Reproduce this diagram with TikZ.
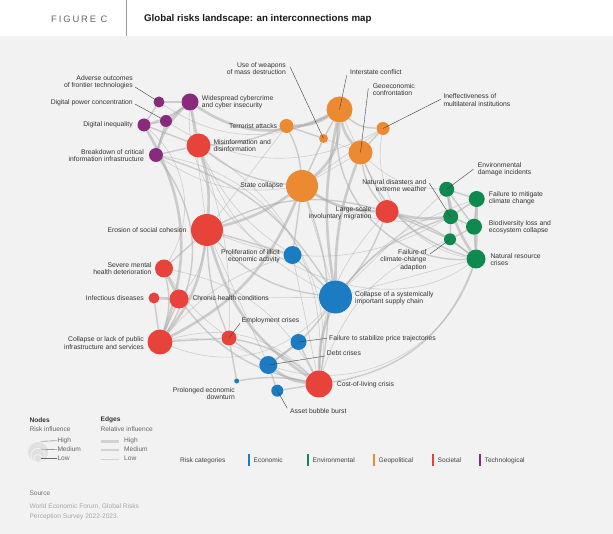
\documentclass[tikz,border=0pt]{standalone}
\usepackage{fontspec}
\setmainfont{Liberation Sans}
\newfontfamily\figfont[LetterSpace=20]{Liberation Sans}
\usetikzlibrary{backgrounds}
\definecolor{bgc}{HTML}{F2F2F2}
\definecolor{ecol}{HTML}{1B7CC4}
\definecolor{vcol}{HTML}{0E8A4E}
\definecolor{gcol}{HTML}{EC8A31}
\definecolor{scol}{HTML}{E8433A}
\definecolor{tcol}{HTML}{892A7E}
\definecolor{edg}{HTML}{ABABAB}
\definecolor{txt}{HTML}{333333}
\pgfdeclarelayer{backl}\pgfdeclarelayer{edgel}
\pgfsetlayers{backl,edgel,main}
\newcommand{\lblfont}{\fontsize{6.8}{7.4}\selectfont}
\tikzset{
  nd/.style={circle,inner sep=0pt,draw=none,minimum size=#1},
  lbl/.style={font=\lblfont,inner sep=0pt,text=txt},
  lr/.style={lbl,anchor=east,align=right},
  ll/.style={lbl,anchor=west,align=left},
  leader/.style={draw=black!75,line width=0.4pt},
  eh/.style={draw=edg,line width=2.6pt,opacity=0.55},
  em/.style={draw=edg,line width=1.4pt,opacity=0.55},
  el/.style={draw=edg,line width=0.6pt,opacity=0.5},
}
\begin{document}
\begin{tikzpicture}[x=1pt,y=-1pt]
\useasboundingbox (0,0) rectangle (613,534);
\begin{pgfonlayer}{backl}
\fill[white] (0,0) rectangle (613,36);
\fill[bgc] (0,36) rectangle (613,534);
\draw[black!40,line width=0.6pt] (126,0) -- (126,36);
\end{pgfonlayer}
\node[anchor=west,inner sep=0pt,font=\figfont\fontsize{9.4}{10}\selectfont,text=black!60] (fig) at (51,19) {FIGURE C};
\node[anchor=west,inner sep=0pt,font=\bfseries\fontsize{9.7}{10}\selectfont,text=black!90] (title) at (144,19) {Global risks landscape: an interconnections map};

% ---------- nodes ----------
% technological
\node[nd=11pt,fill=tcol] (adv) at (159,102) {};
\node[nd=17pt,fill=tcol] (cyb) at (190,102) {};
\node[nd=12pt,fill=tcol] (dpc) at (166,121) {};
\node[nd=13pt,fill=tcol] (dig) at (144,125) {};
\node[nd=14pt,fill=tcol] (bci) at (156,155) {};
% societal
\node[nd=24pt,fill=scol] (mis) at (198.5,145.5) {};
\node[nd=32pt,fill=scol] (ero) at (207,230) {};
\node[nd=18pt,fill=scol] (smh) at (164,268.5) {};
\node[nd=11pt,fill=scol] (inf) at (154,298) {};
\node[nd=19pt,fill=scol] (chr) at (179,299) {};
\node[nd=25pt,fill=scol] (cpi) at (160,342) {};
\node[nd=15pt,fill=scol] (emp) at (229,338) {};
\node[nd=23pt,fill=scol] (mig) at (387,211.5) {};
\node[nd=27pt,fill=scol] (col) at (319,384) {};
% geopolitical
\node[nd=26pt,fill=gcol] (int) at (339.5,109.5) {};
\node[nd=14pt,fill=gcol] (ter) at (286.5,126) {};
\node[nd=9pt,fill=gcol] (wmd) at (323.5,138.5) {};
\node[nd=13pt,fill=gcol] (ine) at (383,128.5) {};
\node[nd=24pt,fill=gcol] (geo) at (360.5,152.5) {};
\node[nd=32pt,fill=gcol] (sta) at (302,186) {};
% economic
\node[nd=18pt,fill=ecol] (ill) at (292.5,255) {};
\node[nd=33pt,fill=ecol] (sup) at (335.5,297) {};
\node[nd=16pt,fill=ecol] (fsp) at (298.5,342) {};
\node[nd=18pt,fill=ecol] (dbt) at (268.3,365) {};
\node[nd=5pt,fill=ecol] (pro) at (236.7,381) {};
\node[nd=12pt,fill=ecol] (abb) at (277.3,390.7) {};
% environmental
\node[nd=15pt,fill=vcol] (edi) at (446.7,189.3) {};
\node[nd=16pt,fill=vcol] (fmc) at (476.7,199) {};
\node[nd=15pt,fill=vcol] (nat) at (450.7,216.7) {};
\node[nd=16pt,fill=vcol] (bio) at (474,226.7) {};
\node[nd=12pt,fill=vcol] (fca) at (450,239.3) {};
\node[nd=19pt,fill=vcol] (nrc) at (476,259) {};

% ---------- edges ----------
\begin{pgfonlayer}{edgel}
% high
\draw[eh] (int) to[bend left=25] (sta);
\draw[eh] (int) to[bend right=15] (geo);
\draw[eh] (cyb) to[bend right=30] (int);
\draw[eh] (int) to[bend left=15] (ter);
\draw[eh] (ero) to[bend right=10] (mis);
\draw[eh] (ero) to[bend right=20] (col);
\draw[eh] (sta) to[bend left=10] (ero);
\draw[eh] (sta) to[bend right=15] (mig);
\draw[eh] (geo) to[bend right=10] (sup);
\draw[eh] (col) to[bend left=15] (dbt);
\draw[eh] (col) to[bend left=10] (sup);
\draw[eh] (nat) to[bend left=10] (mig);
\draw[eh] (cyb) to[bend right=15] (bci);
\draw[eh] (cpi) to[bend right=15] (ero);
\draw[eh] (chr) -- (smh);
\draw[eh] (edi) to[bend right=10] (nrc);
\draw[eh] (fmc) -- (nrc);
\draw[eh] (cyb) -- (mis);
\draw[eh] (sta) to[bend left=20] (cpi);
\draw[eh] (dig) to[bend left=25] (cpi);
\draw[eh] (int) to[bend right=10] (sup);
\draw[eh] (inf) -- (chr);
% medium
\draw[em] (int) to[bend right=20] (ine);
\draw[em] (int) to[bend right=50] (nrc);
\draw[em] (geo) -- (ine);
\draw[em] (geo) to[bend right=15] (mig);
\draw[em] (ter) to[bend left=10] (sta);
\draw[em] (ter) to[bend left=10] (mis);
\draw[em] (sta) to[bend left=15] (mis);
\draw[em] (mis) -- (bci);
\draw[em] (mis) -- (dig);
\draw[em] (dig) -- (dpc);
\draw[em] (dig) -- (adv);
\draw[em] (dig) to[bend right=10] (cyb);
\draw[em] (adv) -- (cyb);
\draw[em] (dpc) -- (cyb);
\draw[em] (dpc) -- (bci);
\draw[em] (bci) to[bend left=35] (cpi);
\draw[em] (ero) -- (smh);
\draw[em] (ero) to[bend right=10] (emp);
\draw[em] (ero) to[bend right=20] (sup);
\draw[em] (chr) -- (cpi);
\draw[em] (smh) to[bend left=15] (cpi);
\draw[em] (inf) -- (cpi);
\draw[em] (chr) to[bend right=20] (col);
\draw[em] (cpi) -- (emp);
\draw[em] (emp) to[bend left=15] (col);
\draw[em] (emp) -- (dbt);
\draw[em] (emp) -- (pro);
\draw[em] (dbt) -- (abb);
\draw[em] (dbt) -- (fsp);
\draw[em] (fsp) -- (col);
\draw[em] (abb) -- (col);
\draw[em] (pro) to[bend left=10] (col);
\draw[em] (sup) to[bend right=10] (mig);
\draw[em] (sup) -- (ill);
\draw[em] (sup) to[bend left=15] (nat);
\draw[em] (mig) -- (fca);
\draw[em] (nat) -- (edi);
\draw[em] (nat) -- (fmc);
\draw[em] (nat) -- (bio);
\draw[em] (nat) -- (fca);
\draw[em] (edi) -- (fmc);
\draw[em] (edi) -- (bio);
\draw[em] (fmc) -- (bio);
\draw[em] (bio) -- (nrc);
\draw[em] (fca) -- (nrc);
\draw[em] (bio) -- (fca);
\draw[em] (nrc) to[bend left=30] (col);
\draw[em] (nrc) to[bend left=25] (geo);
\draw[em] (ill) -- (ero);
\draw[em] (ill) -- (sta);
\draw[em] (wmd) -- (int);
\draw[em] (wmd) -- (ter);
\draw[em] (wmd) -- (sta);
\draw[em] (dbt) to[bend right=10] (sup);
\draw[em] (sta) to[bend left=15] (col);
\draw[em] (bci) to[bend left=20] (sup);
\draw[em] (ero) to[bend left=20] (mig);
\draw[em] (mig) to[bend left=10] (nrc);
% low
\draw[el] (cyb) to[bend right=65] (nrc);
\draw[el] (bci) to[bend left=45] (col);
\draw[el] (mis) to[bend right=20] (sup);
\draw[el] (ero) to[bend right=25] (nat);
\draw[el] (cpi) to[bend left=30] (col);
\draw[el] (ine) to[bend right=45] (nrc);
\draw[el] (ine) -- (sta);
\draw[el] (wmd) -- (geo);
\draw[el] (adv) to[bend right=30] (int);
\draw[el] (dpc) to[bend right=30] (ine);
\draw[el] (mis) to[bend left=30] (col);
\draw[el] (smh) to[bend left=25] (col);
\draw[el] (chr) -- (sup);
\draw[el] (sta) -- (sup);
\draw[el] (ill) -- (col);
\draw[el] (ill) to[bend right=15] (cpi);
\draw[el] (mig) to[bend right=20] (col);
\draw[el] (fmc) to[bend right=15] (sup);
\draw[el] (edi) -- (sup);
\draw[el] (nrc) -- (sup);
\draw[el] (fca) to[bend right=25] (col);
\draw[el] (ter) -- (ero);
\draw[el] (mis) to[bend left=10] (emp);
\draw[el] (dig) to[bend left=40] (smh);
\draw[el] (cyb) -- (ero);
\draw[el] (int) -- (mig);
\draw[el] (geo) -- (sta);
\draw[el] (ero) -- (dbt);
\draw[el] (smh) to[bend right=10] (emp);
\draw[el] (cpi) to[bend left=20] (dbt);
\draw[el] (mis) to[bend right=15] (ill);
\draw[el] (sta) to[bend right=20] (nat);
\draw[el] (geo) to[bend right=20] (edi);
\draw[el] (ero) to[bend left=15] (chr);
\draw[el] (bci) to[bend right=20] (sta);
\draw[el] (nrc) to[bend left=45] (dbt);
\draw[el] (cpi) to[bend right=35] (sup);
\end{pgfonlayer}

% ---------- labels ----------
\node[lr] (advl) at (133,82.2) {Adverse outcomes\\of frontier technologies};
\node[lr] (dpcl) at (133,102.3) {Digital power concentration};
\node[lr] (digl) at (133,125) {Digital inequality};
\node[lr] (bcil) at (144,155.7) {Breakdown of critical\\information infrastructure};
\node[ll] (cybl) at (201.7,102.5) {Widespread cybercrime\\and cyber insecurity};
\node[ll] (misl) at (213.3,145.5) {Misinformation and\\disinformation};
\node[lr] (terl) at (277.3,126) {Terrorist attacks};
\node[lr] (stal) at (283.3,185.7) {State collapse};
\node[lr] (erol) at (186.7,230.3) {Erosion of social cohesion};
\node[lr] (wmdl) at (286,68.5) {Use of weapons\\of mass destruction};
\node[ll] (intl) at (350,72.3) {Interstate conflict};
\node[ll] (geol) at (372.7,89.3) {Geoeconomic\\confrontation};
\node[ll] (inel) at (443.3,100) {Ineffectiveness of\\multilateral institutions};
\node[lr] (natl) at (426.7,185.5) {Natural disasters and\\extreme weather};
\node[lr] (migl) at (371.7,213.3) {Large-scale\\involuntary migration};
\node[ll] (edil) at (477.7,169.5) {Environmental\\damage incidents};
\node[ll] (fmcl) at (488.7,198.3) {Failure to mitigate\\climate change};
\node[ll] (biol) at (488.7,227.5) {Biodiversity loss and\\ecosystem collapse};
\node[ll] (nrcl) at (490.3,259.7) {Natural resource\\crises};
\node[lr] (fcal) at (426.7,260) {Failure of\\climate-change\\adaption};
\node[lr] (smhl) at (151.7,268.7) {Severe mental\\health deterioration};
\node[lr] (infl) at (144,297.7) {Infectious diseases};
\node[ll] (chrl) at (192.3,298.3) {Chronic health conditions};
\node[lr] (cpil) at (144,343) {Collapse or lack of public\\infrastructure and services};
\node[ll] (empl) at (241.7,320.7) {Employment crises};
\node[lr] (illl) at (280,256.2) {Proliferation of illicit\\economic activity};
\node[lr] (prol) at (235,393.8) {Prolonged economic\\downturn};
\node[ll] (supl) at (355,298) {Collapse of a systemically\\important supply chain};
\node[ll] (fspl) at (329,338.3) {Failure to stabilize price trajectories};
\node[ll] (dbtl) at (326.7,353) {Debt crises};
\node[ll] (coll) at (336.7,385) {Cost-of-living crisis};
\node[ll] (abbl) at (290,411) {Asset bubble burst};

% ---------- leaders ----------
\coordinate (advc) at (135,87);
\coordinate (dpcc) at (135,104);
\coordinate (wmdc) at (290,66.7);
\coordinate (intc) at (346.7,75.5);
\coordinate (geoc) at (368.3,88.3);
\coordinate (inec) at (440.7,99.3);
\coordinate (natc) at (429.3,183.3);
\coordinate (edic) at (473.3,169.3);
\coordinate (fcac) at (430,254);
\coordinate (empc) at (240,323.3);
\coordinate (fspc) at (326.7,338.3);
\coordinate (dbtc) at (325,356);
\coordinate (abbc) at (287.3,408.3);
\draw[leader] (advc) -- (adv.center);
\draw[leader] (dpcc) -- (dpc.center);
\draw[leader] (wmdc) -- (wmd.center);
\draw[leader] (intc) -- (int.center);
\draw[leader] (geoc) -- (geo.center);
\draw[leader] (inec) -- (ine.center);
\draw[leader] (natc) -- (nat.center);
\draw[leader] (edic) -- (edi.center);
\draw[leader] (fcac) -- (fca.center);
\draw[leader] (empc) -- (emp.center);
\draw[leader] (fspc) -- (fsp.center);
\draw[leader] (dbtc) -- (dbt.center);
\draw[leader] (abbc) -- (abb.center);

% ---------- legend ----------
\tikzset{lgh/.style={inner sep=0pt,anchor=west,font=\bfseries\fontsize{6.6}{7}\selectfont,text=txt},
  lgs/.style={inner sep=0pt,anchor=west,font=\fontsize{6.6}{7}\selectfont,text=black!60},
  lgc/.style={circle,inner sep=0pt,fill=black!12,draw=black!4,line width=0.6pt,minimum size=#1}}
\node[lgh] (nodesh) at (29.3,420) {Nodes};
\node[lgs] (nodess) at (29.3,429.5) {Risk influence};
\node[lgc=21pt] (cbig) at (38,452) {};
\node[lgc=14pt] (cmed) at (38,455.5) {};
\node[lgc=8pt] (csml) at (38,458.5) {};
\node[lgs] (lhi) at (57.3,440.7) {High};
\node[lgs] (lme) at (57.3,449.5) {Medium};
\node[lgs] (llo) at (57.3,458.3) {Low};
\coordinate (lhia) at (41,441.3); \coordinate (lmea) at (41,449.8); \coordinate (lloa) at (41,458.3);
\draw[black!60,line width=0.4pt] (lhia) -- (lhi.west);
\draw[black!60,line width=0.4pt] (lmea) -- (lme.west);
\draw[black!60,line width=0.4pt] (lloa) -- (llo.west);
\node[lgh] (edgesh) at (100.5,420) {Edges};
\node[lgs] (edgess) at (100.5,429.5) {Relative influence};
\node[lgs] (ehi) at (124,440.7) {High};
\node[lgs] (eme) at (124,449.5) {Medium};
\node[lgs] (elo) at (124,458.3) {Low};
\coordinate (eha) at (100.5,441.5); \coordinate (ehb) at (118.5,441.5);
\coordinate (ema) at (100.5,450.3); \coordinate (emb) at (118.5,450.3);
\coordinate (ela) at (100.5,459); \coordinate (elb) at (118.5,459);
\draw[black!18,line width=3.4pt] (eha) -- (ehb);
\draw[black!18,line width=2pt] (ema) -- (emb);
\draw[black!18,line width=0.9pt] (ela) -- (elb);

\node[lgs,text=black!75] (rc) at (180,460.3) {Risk categories};
\tikzset{bar/.style={minimum width=2pt,minimum height=11.5pt,inner sep=0pt,draw=none}}
\node[bar,fill=ecol] (b1) at (249,460) {};
\node[lgs,text=black!75] (c1) at (253.5,460.3) {Economic};
\node[bar,fill=vcol] (b2) at (308,460) {};
\node[lgs,text=black!75] (c2) at (312.5,460.3) {Environmental};
\node[bar,fill=gcol] (b3) at (374,460) {};
\node[lgs,text=black!75] (c3) at (378.5,460.3) {Geopolitical};
\node[bar,fill=scol] (b4) at (433,460) {};
\node[lgs,text=black!75] (c4) at (437.5,460.3) {Societal};
\node[bar,fill=tcol] (b5) at (480,460) {};
\node[lgs,text=black!75] (c5) at (484.5,460.3) {Technological};

\node[lgs,text=black!55] (src) at (29.3,493) {Source};
\node[inner sep=0pt,anchor=north west,align=left,font=\fontsize{6.6}{10.5}\selectfont,text=black!35] (srct) at (29.3,503.5) {World Economic Forum, Global Risks\\Perception Survey 2022-2023.};
\end{tikzpicture}
\end{document}
